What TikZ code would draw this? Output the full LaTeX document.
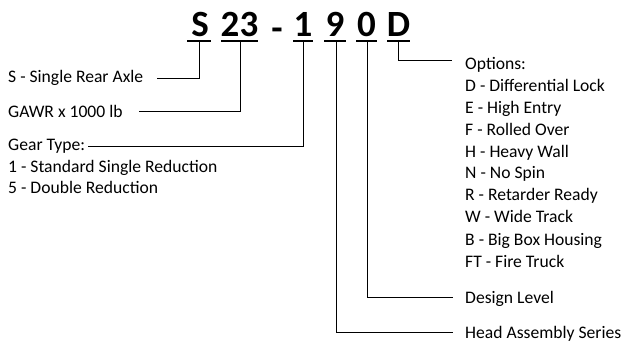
\documentclass[tikz,border=0pt]{standalone}
\usepackage{fontspec}
\setmainfont{Carlito}
\begin{document}
\begin{tikzpicture}[x=1pt,y=-1pt,
  lbl/.style={anchor=base west,inner sep=0pt,font=\fontsize{17.6}{20}\selectfont},
  ttl/.style={anchor=base,inner sep=0pt,font=\fontsize{37}{40}\selectfont\bfseries},
  conn/.style={draw,line width=1pt},
  uline/.style={draw,line width=1.2pt}]
\useasboundingbox (0,0) rectangle (624,345);
% title characters
\node[ttl] (tS) at (200,37) {S};
\node[ttl] (t23) at (239.5,37) {23};
\node[ttl] (tdash) at (277,41) {-};
\node[ttl] (t1) at (303,37) {1};
\node[ttl] (t9) at (335,37) {9};
\node[ttl] (t0) at (366.5,37) {0};
\node[ttl] (tD) at (398.5,37) {D};
% underlines
\draw[uline] (187,41) -- (211,41);
\draw[uline] (221,41) -- (258,41);
\draw[uline] (293,41) -- (313,41);
\draw[uline] (324,41) -- (346,41);
\draw[uline] (356,41) -- (377,41);
\draw[uline] (387,41) -- (410,41);
% connector start points
\coordinate (uS) at (199,41);
\coordinate (u23) at (240,41);
\coordinate (u1) at (303,41);
\coordinate (u9) at (336,41);
\coordinate (u0) at (367,41);
\coordinate (uD) at (398,41);
% connector end points
\coordinate (eS) at (157,79);
\coordinate (e23) at (139,111);
\coordinate (e1) at (88,146);
\coordinate (e9) at (453,332);
\coordinate (e0) at (453,297);
\coordinate (eD) at (452,61);
% left labels
\node[lbl] (lS) at (8,82.5) {S - Single Rear Axle};
\node[lbl] (l23) at (8,117.5) {GAWR x 1000 lb};
\node[lbl] (l1) at (8,150.5) {Gear Type:};
\node[lbl] (l1a) at (8,172.5) {1 - Standard Single Reduction};
\node[lbl] (l1b) at (8,193.5) {5 - Double Reduction};
% right labels
\node[lbl] (oT) at (465,69.5) {Options:};
\node[lbl] (o1) at (465,91.3) {D - Differential Lock};
\node[lbl] (o2) at (465,113.2) {E - High Entry};
\node[lbl] (o3) at (465,135.1) {F - Rolled Over};
\node[lbl] (o4) at (465,157) {H - Heavy Wall};
\node[lbl] (o5) at (465,178.9) {N - No Spin};
\node[lbl] (o6) at (465,200.8) {R - Retarder Ready};
\node[lbl] (o7) at (465,222.7) {W - Wide Track};
\node[lbl] (o8) at (465,245) {B - Big Box Housing};
\node[lbl] (o9) at (465,267.5) {FT - Fire Truck};
\node[lbl] (l0) at (465,303) {Design Level};
\node[lbl] (l9) at (465,338) {Head Assembly Series};
% connectors
\draw[conn] (uS) |- (eS);
\draw[conn] (u23) |- (e23);
\draw[conn] (u1) |- (e1);
\draw[conn] (u9) |- (e9);
\draw[conn] (u0) |- (e0);
\draw[conn] (uD) |- (eD);
\end{tikzpicture}
\end{document}
